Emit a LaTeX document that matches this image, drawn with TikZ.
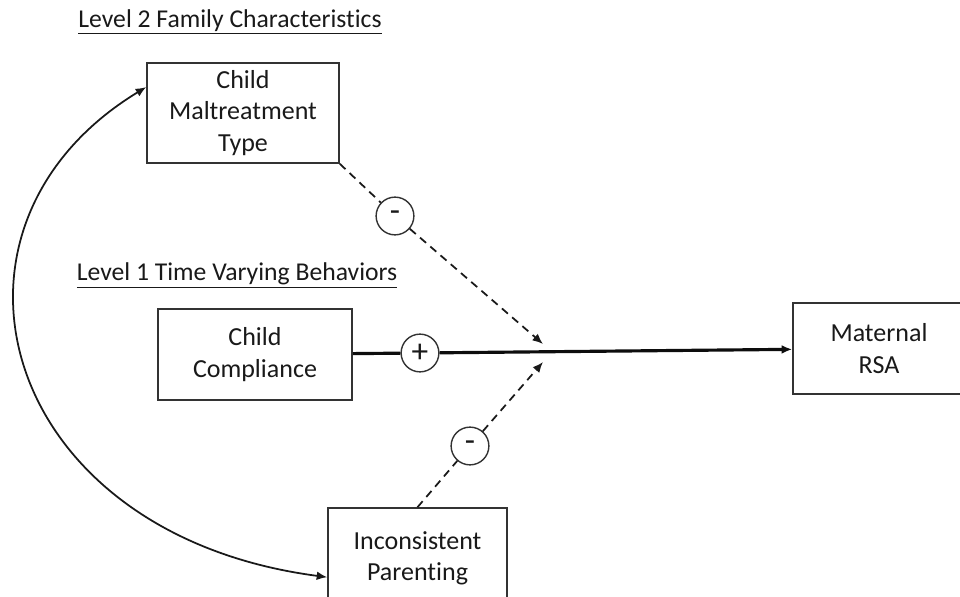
\documentclass[tikz,border=0pt]{standalone}
\usepackage{fontspec}
\setmainfont{Carlito}[Ligatures=NoCommon]
\usetikzlibrary{arrows.meta}

\begin{document}
\begin{tikzpicture}[x=0.02cm, y=-0.02cm,
  box/.style={draw=black!80, line width=0.9pt, rectangle, align=center, text=black!90,
    font=\fontsize{14.8}{17.8}\selectfont, inner sep=0pt},
  sign/.style={draw=black!80, line width=0.8pt, circle, minimum size=21.5pt, inner sep=0pt,
    text=black!90, font=\fontsize{19}{20}\selectfont},
  heading/.style={text=black!90, font=\fontsize{14.6}{16}\selectfont},
  path/.style={black!90, line width=1pt},
  mainpath/.style={black!95, line width=1.8pt},
  moderator/.style={black!90, line width=1pt, dash pattern=on 4.5pt off 3.2pt},
  tip/.style={-{Latex[length=6pt, width=5pt]}}]
\useasboundingbox (0,0) rectangle (960,597);

% headings
\node[heading] (lvltwo) at (230,22) {\underline{Level 2 Family Characteristics}};
\node[heading] (lvlone) at (237,276) {\underline{Level 1 Time Varying Behaviors}};

% variables
\node[box, minimum width=192*0.569pt, minimum height=100*0.569pt] (cmt) at (243,113) {Child\\Maltreatment\\Type};
\node[box, minimum width=194*0.569pt, minimum height=91*0.569pt] (cc) at (255,354.5) {Child\\Compliance};
\node[box, minimum width=172*0.569pt, minimum height=91*0.569pt] (rsa) at (879,348.5) {Maternal\\RSA};
\node[box, minimum width=179*0.569pt, minimum height=100*0.569pt] (ip) at (417.5,558) {Inconsistent\\Parenting};

% signs
\node[sign] (pos) at (420,353) {+};
\node[sign] (negA) at (395,216) {-};
\node[sign] (negB) at (470,446) {-};

\coordinate (jtop) at (543,344);
\coordinate (jbot) at (543,362);

% paths
\draw[mainpath] (cc) -- (pos);
\draw[mainpath, tip] (pos) -- (rsa);
\draw[moderator] (cmt.south east) -- (negA);
\draw[moderator, tip] (negA) -- (jtop);
\draw[moderator] (ip.north) -- (negB);
\draw[moderator, tip] (negB) -- (jbot);

% covariance
\draw[path, {Latex[length=6pt, width=5pt]}-{Latex[length=6pt, width=5pt]}]
  (cmt.165) .. controls (-84,227) and (-2,534) .. (ip.192);
\end{tikzpicture}
\end{document}
